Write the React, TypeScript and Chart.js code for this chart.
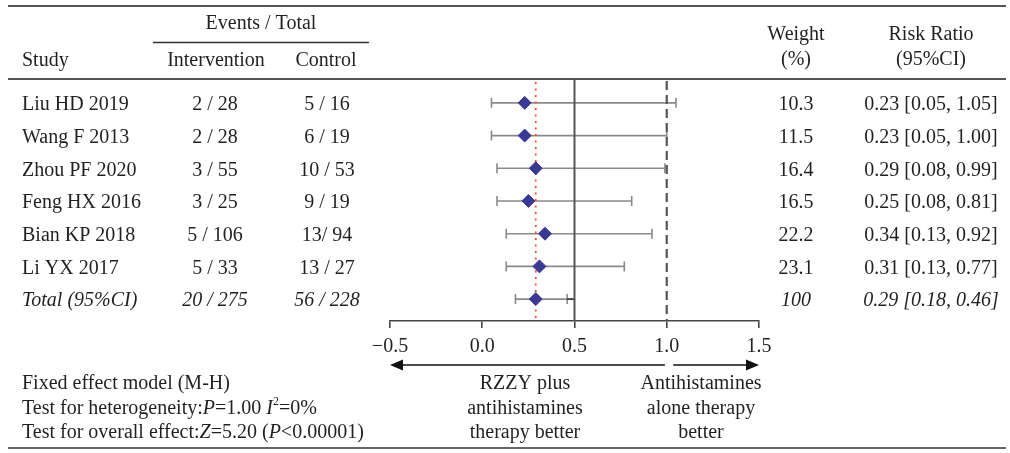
import React, { useEffect, useRef } from "react";
import { Chart, registerables } from "chart.js";

Chart.register(...registerables);

const studies = ["Liu HD 2019", "Wang F 2013", "Zhou PF 2020", "Feng HX 2016", "Bian KP 2018", "Li YX 2017", "Total (95%CI)"];
const interventionEvents = ["2 / 28", "2 / 28", "3 / 55", "3 / 25", "5 / 106", "5 / 33", "20 / 275"];
const controlEvents = ["5 / 16", "6 / 19", "10 / 53", "9 / 19", "13/ 94", "13 / 27", "56 / 228"];
const weights = ["10.3", "11.5", "16.4", "16.5", "22.2", "23.1", "100"];
const riskRatio = [0.23, 0.23, 0.29, 0.25, 0.34, 0.31, 0.29];
const ciLower = [0.05, 0.05, 0.08, 0.08, 0.13, 0.13, 0.18];
const ciUpper = [1.05, 1.0, 0.99, 0.81, 0.92, 0.77, 0.46];
const pooledEstimate = 0.29;
const solidRefValue = 0.5;
const dashedRefValue = 1.0;
const xTickValues = [-0.5, 0, 0.5, 1.0, 1.5];
const xTickLabels = ["\u22120.5", "0.0", "0.5", "1.0", "1.5"];
const footerLines = [
  [{ t: "Fixed effect model (M-H)" }],
  [{ t: "Test for heterogeneity:" }, { t: "P", i: true }, { t: "=1.00 " }, { t: "I", i: true }, { t: "2", sup: true }, { t: "=0%" }],
  [{ t: "Test for overall effect:" }, { t: "Z", i: true }, { t: "=5.20 (" }, { t: "P", i: true }, { t: "<0.00001)" }],
];
const leftArrowLabel = ["RZZY plus", "antihistamines", "therapy better"];
const rightArrowLabel = ["Antihistamines", "alone therapy", "better"];

const FAMILY = '"Liberation Serif", "Times New Roman", serif';
const FS = 20;
const TEXT = "#231f20";
const DY = 2;

type Run = { t: string; i?: boolean; sup?: boolean };

function fontOf(r: Run, size: number) {
  const s = r.sup ? Math.round(size * 0.62) : size;
  return `${r.i ? "italic " : ""}${s}px ${FAMILY}`;
}

function drawRuns(ctx: CanvasRenderingContext2D, runs: Run[], x: number, y: number, align: "left" | "center" | "right", size = FS) {
  let total = 0;
  const widths = runs.map((r) => {
    ctx.font = fontOf(r, size);
    const w = ctx.measureText(r.t).width;
    total += w;
    return w;
  });
  let cx = align === "left" ? x : align === "center" ? x - total / 2 : x - total;
  ctx.textAlign = "left";
  ctx.textBaseline = "middle";
  ctx.fillStyle = TEXT;
  runs.forEach((r, k) => {
    ctx.font = fontOf(r, size);
    ctx.fillText(r.t, cx, (r.sup ? y - size * 0.38 : y) + DY);
    cx += widths[k];
  });
}

function hLine(ctx: CanvasRenderingContext2D, x1: number, x2: number, y: number, w = 2, c = "#555") {
  ctx.save();
  ctx.strokeStyle = c;
  ctx.lineWidth = w;
  ctx.beginPath();
  ctx.moveTo(x1, y);
  ctx.lineTo(x2, y);
  ctx.stroke();
  ctx.restore();
}

const forestPlugin = {
  id: "forest",
  beforeDatasetsDraw(chart: any) {
    const { ctx, chartArea, scales } = chart;
    const xs = scales.x;
    const ys = scales.y;
    ctx.save();
    for (let i = 0; i < riskRatio.length; i++) {
      const y = ys.getPixelForValue(i);
      const x1 = xs.getPixelForValue(ciLower[i]);
      const x2 = xs.getPixelForValue(ciUpper[i]);
      ctx.strokeStyle = "#8a8a8a";
      ctx.lineWidth = 1.6;
      ctx.beginPath();
      ctx.moveTo(x1, y);
      ctx.lineTo(x2, y);
      ctx.moveTo(x1, y - 5);
      ctx.lineTo(x1, y + 5);
      ctx.moveTo(x2, y - 5);
      ctx.lineTo(x2, y + 5);
      ctx.stroke();
      if (i === riskRatio.length - 1) {
        ctx.strokeStyle = "#222";
        ctx.beginPath();
        ctx.moveTo(x2, y);
        ctx.lineTo(xs.getPixelForValue(solidRefValue), y);
        ctx.stroke();
      }
    }
    const top = chartArea.top;
    const bottom = chartArea.bottom;
    let xp = xs.getPixelForValue(solidRefValue);
    ctx.strokeStyle = "#555";
    ctx.lineWidth = 2;
    ctx.setLineDash([]);
    ctx.beginPath();
    ctx.moveTo(xp, top);
    ctx.lineTo(xp, bottom);
    ctx.stroke();
    xp = xs.getPixelForValue(dashedRefValue);
    ctx.lineWidth = 2.2;
    ctx.setLineDash([9, 5]);
    ctx.beginPath();
    ctx.moveTo(xp, top + 2);
    ctx.lineTo(xp, bottom);
    ctx.stroke();
    xp = xs.getPixelForValue(pooledEstimate);
    ctx.strokeStyle = "#ff4a33";
    ctx.lineWidth = 1.8;
    ctx.setLineDash([2, 4.5]);
    ctx.beginPath();
    ctx.moveTo(xp, top + 3);
    ctx.lineTo(xp, bottom);
    ctx.stroke();
    ctx.restore();
  },
  afterDraw(chart: any) {
    const { ctx, scales, chartArea } = chart;
    const xs = scales.x;
    const ys = scales.y;
    ctx.save();
    hLine(ctx, 8, 1006, 6, 2, "#555");
    hLine(ctx, 8, 1006, chartArea.top, 2, "#555");
    hLine(ctx, 153, 369, 42.5, 1.6, "#333");
    hLine(ctx, 8, 1006, 448, 2, "#666");
    drawRuns(ctx, [{ t: "Events / Total" }], 261, 22, "center");
    drawRuns(ctx, [{ t: "Study" }], 22, 59, "left");
    drawRuns(ctx, [{ t: "Intervention" }], 216, 59, "center");
    drawRuns(ctx, [{ t: "Control" }], 326, 59, "center");
    drawRuns(ctx, [{ t: "Weight" }], 796, 33, "center");
    drawRuns(ctx, [{ t: "(%)" }], 796, 58, "center");
    drawRuns(ctx, [{ t: "Risk Ratio" }], 931, 33, "center");
    drawRuns(ctx, [{ t: "(95%CI)" }], 931, 58, "center");
    for (let i = 0; i < studies.length; i++) {
      const y = ys.getPixelForValue(i);
      const it = i === studies.length - 1;
      drawRuns(ctx, [{ t: studies[i], i: it }], 22, y, "left");
      drawRuns(ctx, [{ t: interventionEvents[i], i: it }], 215, y, "center");
      drawRuns(ctx, [{ t: controlEvents[i], i: it }], 327, y, "center");
      drawRuns(ctx, [{ t: weights[i], i: it }], 796, y, "center");
      const rr = `${riskRatio[i].toFixed(2)} [${ciLower[i].toFixed(2)}, ${ciUpper[i].toFixed(2)}]`;
      drawRuns(ctx, [{ t: rr, i: it }], 931, y, "center");
    }
    const fy = [382, 407, 431];
    footerLines.forEach((runs, k) => drawRuns(ctx, runs as Run[], 22, fy[k], "left"));
    leftArrowLabel.forEach((t, k) => drawRuns(ctx, [{ t }], 525, fy[k], "center"));
    rightArrowLabel.forEach((t, k) => drawRuns(ctx, [{ t }], 701, fy[k], "center"));
    const ay = 365;
    const a0 = xs.getPixelForValue(xs.min);
    const a1 = xs.getPixelForValue(0.99);
    const b0 = xs.getPixelForValue(1.035);
    const b1 = xs.getPixelForValue(xs.max);
    ctx.strokeStyle = "#111";
    ctx.fillStyle = "#111";
    ctx.lineWidth = 1.6;
    ctx.beginPath();
    ctx.moveTo(a0 + 8, ay);
    ctx.lineTo(a1, ay);
    ctx.moveTo(b0, ay);
    ctx.lineTo(b1 - 8, ay);
    ctx.stroke();
    ctx.beginPath();
    ctx.moveTo(a0, ay);
    ctx.lineTo(a0 + 13, ay - 5.5);
    ctx.lineTo(a0 + 13, ay + 5.5);
    ctx.closePath();
    ctx.fill();
    ctx.beginPath();
    ctx.moveTo(b1, ay);
    ctx.lineTo(b1 - 13, ay - 5.5);
    ctx.lineTo(b1 - 13, ay + 5.5);
    ctx.closePath();
    ctx.fill();
    ctx.restore();
  },
};

export default function App() {
  const ref = useRef<HTMLCanvasElement | null>(null);
  useEffect(() => {
    if (!ref.current) return;
    const chart = new Chart(ref.current, {
      type: "scatter",
      data: {
        datasets: [
          {
            label: "Risk Ratio",
            data: riskRatio.map((v, i) => ({ x: v, y: i })),
            pointStyle: "rectRot",
            pointRadius: 6.5,
            pointHoverRadius: 6.5,
            pointBorderWidth: 1,
            backgroundColor: "#3b3996",
            borderColor: "#3b3996",
          },
        ],
      },
      options: {
        responsive: false,
        animation: false,
        devicePixelRatio: 1,
        layout: { padding: { left: 390, right: 251, top: 79, bottom: 87 } },
        plugins: { legend: { display: false }, tooltip: { enabled: false }, title: { display: false } },
        events: [],
        scales: {
          x: {
            type: "linear",
            min: -0.5,
            max: 1.5,
            afterBuildTicks: (scale: any) => {
              scale.ticks = xTickValues.map((v) => ({ value: v }));
            },
            afterFit: (scale: any) => {
              scale.height = 45;
            },
            ticks: {
              autoSkip: false,
              maxRotation: 0,
              padding: 7,
              color: TEXT,
              font: { family: FAMILY, size: FS },
              callback: (_v: any, idx: number) => xTickLabels[idx],
            },
            grid: { drawOnChartArea: false, drawTicks: true, tickLength: 7, color: "#444", lineWidth: 1.6 },
            border: { display: true, color: "#444", width: 1.6 },
          },
          y: {
            type: "linear",
            display: false,
            reverse: true,
            min: -0.73,
            max: 6.67,
          },
        },
      },
      plugins: [forestPlugin],
    } as any);
    return () => chart.destroy();
  }, []);
  return (
    <div style={{ position: "absolute", left: 0, top: 0, width: 1010, height: 453, background: "#fff" }}>
      <canvas ref={ref} width={1010} height={453} style={{ display: "block", width: 1010, height: 453 }} />
    </div>
  );
}
